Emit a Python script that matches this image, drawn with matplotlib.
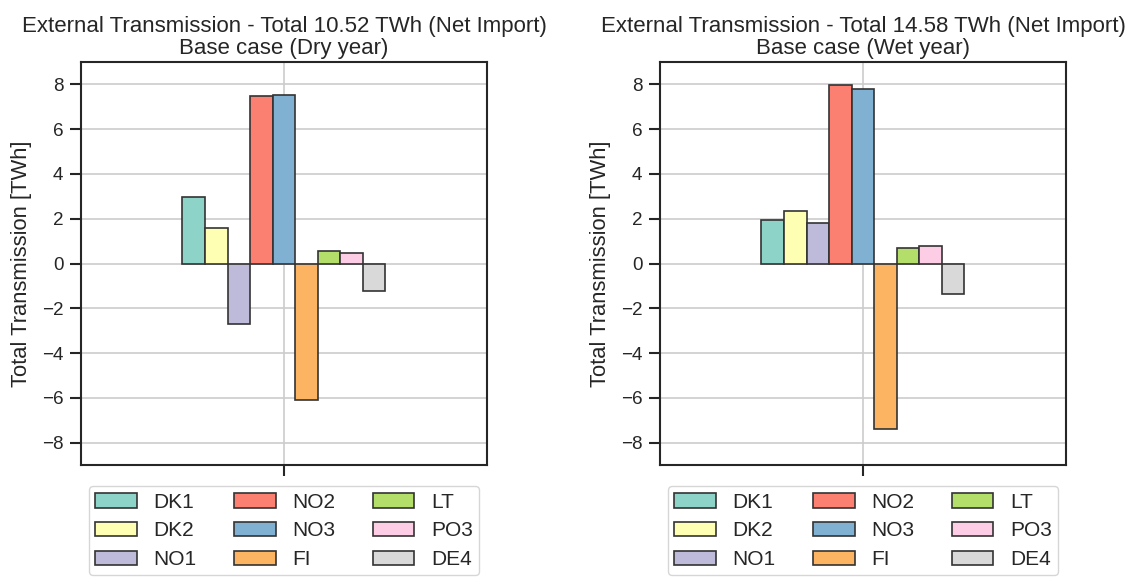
import matplotlib
matplotlib.use('Agg')
import matplotlib.pyplot as plt
import seaborn as sns
import numpy as np

sns.set_theme(style='ticks', rc={'axes.grid': True})
plt.rcParams['font.family'] = ['Liberation Sans', 'DejaVu Sans']

zones = ['DK1', 'DK2', 'NO1', 'NO2', 'NO3', 'FI', 'LT', 'PO3', 'DE4']
dry = [2.95, 1.60, -2.72, 7.47, 7.52, -6.10, 0.58, 0.47, -1.25]
wet = [1.93, 2.35, 1.80, 7.98, 7.79, -7.40, 0.69, 0.79, -1.35]
titles = ['External Transmission - Total 10.52 TWh (Net Import)\nBase case (Dry year)',
          'External Transmission - Total 14.58 TWh (Net Import)\nBase case (Wet year)']

colors = sns.color_palette('Set3', 9)

fig = plt.figure(figsize=(11.26, 5.78), dpi=100)
ax1 = fig.add_axes([0.0719, 0.1955, 0.3606, 0.6972])
ax2 = fig.add_axes([0.5861, 0.1955, 0.3606, 0.6972])

w = 0.5 / len(zones)
for ax, vals, title in zip([ax1, ax2], [dry, wet], titles):
    for i, (z, v) in enumerate(zip(zones, vals)):
        x = -0.25 + w / 2 + i * w
        ax.bar(x, v, width=w, color=colors[i], edgecolor='#333333', linewidth=1.2, label=z, zorder=3)
    ax.set_xlim(-0.5, 0.5)
    ax.set_ylim(-9, 9)
    ax.set_yticks(np.arange(-8, 9, 2))
    ax.set_xticks([0])
    ax.set_xticklabels([''])
    ax.grid(True, color='#cccccc', linewidth=1.2, zorder=0)
    ax.set_axisbelow(True)
    ax.tick_params(axis='both', labelsize=13.6, length=7.7, width=1.5, pad=5, color='#262626')
    for s in ax.spines.values():
        s.set_linewidth(1.5)
        s.set_color('#262626')
    ax.set_ylabel('Total Transmission [TWh]', fontsize=15.8, color='#262626', labelpad=7)
    ax.set_title(title, fontsize=16, color='#262626', linespacing=1.05)
    ax.legend(loc='upper center', bbox_to_anchor=(0.5, -0.027), ncol=3, fontsize=15,
              frameon=True, edgecolor='#cccccc', columnspacing=1.8, labelspacing=0.47,
              borderpad=0.3, handlelength=2.0)

plt.savefig('out.png', dpi=100)
